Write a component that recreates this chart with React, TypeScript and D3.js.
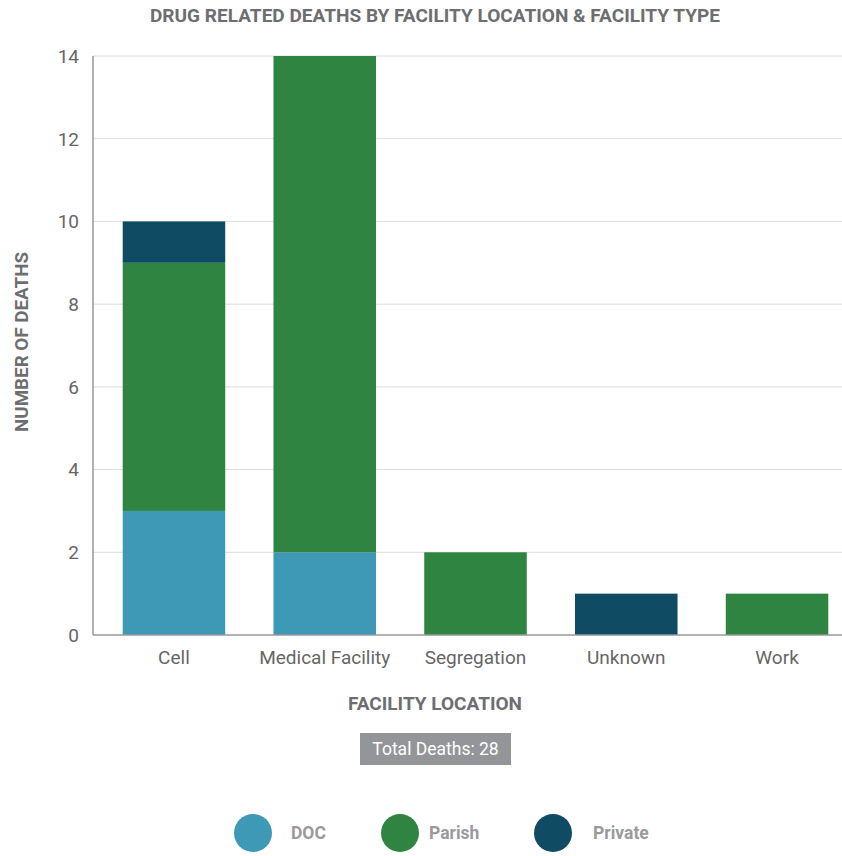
import React from "react";
import * as d3 from "d3";

// Facility locations and deaths per facility type
const locations = ["Cell", "Medical Facility", "Segregation", "Unknown", "Work"];
const docDeaths = [3, 2, 0, 0, 0];
const parishDeaths = [6, 12, 2, 0, 1];
const privateDeaths = [1, 0, 0, 1, 0];
const facilityTypes = ["DOC", "Parish", "Private"];
const typeColors = ["#3e99b6", "#2e8440", "#0f4c63"];
const yTicks = [0, 2, 4, 6, 8, 10, 12, 14];

const W = 842;
const H = 856;
const left = 93;
const top = 56;
const bottom = 635;
const plotRight = 842;

export default function App() {
  const rows = locations.map((loc, i) => ({
    loc,
    DOC: docDeaths[i],
    Parish: parishDeaths[i],
    Private: privateDeaths[i],
  }));
  const stack = d3.stack<any>().keys(facilityTypes)(rows);
  const total = d3.sum(docDeaths) + d3.sum(parishDeaths) + d3.sum(privateDeaths);

  const x = d3
    .scaleBand<string>()
    .domain(locations)
    .range([left, 858])
    .paddingInner(0.32)
    .paddingOuter(0.197)
    .align(0.5);
  const y = d3.scaleLinear().domain([0, 14]).range([bottom, top]);
  const color = d3.scaleOrdinal<string, string>().domain(facilityTypes).range(typeColors);

  const font = "Roboto, 'Noto Sans', sans-serif";
  const legendCx = [253, 400, 553];
  const legendLabelX = [291, 429, 593];

  return (
    <svg
      width={W}
      height={H}
      style={{ position: "absolute", left: 0, top: 0, background: "#fff" }}
      fontFamily={font}
    >
      <text
        x={435}
        y={22}
        textAnchor="middle"
        fontSize={18}
        fontWeight={700}
        fill="#6d6e71"
        textLength={570}
        lengthAdjust="spacingAndGlyphs"
      >
        DRUG RELATED DEATHS BY FACILITY LOCATION &amp; FACILITY TYPE
      </text>

      {/* gridlines and y ticks */}
      {yTicks.map((t) => (
        <g key={t}>
          {t > 0 && (
            <line x1={left} x2={plotRight} y1={y(t)} y2={y(t)} stroke="#dcdcdc" strokeWidth={1} />
          )}
          <text x={79} y={y(t)} dy="0.36em" textAnchor="end" fontSize={19} fill="#666666">
            {t}
          </text>
        </g>
      ))}

      {/* stacked bars */}
      {stack.map((series) => (
        <g key={series.key} fill={color(series.key)}>
          {series.map((d, i) =>
            d[1] - d[0] > 0 ? (
              <rect
                key={i}
                x={x(locations[i])}
                y={y(d[1])}
                width={x.bandwidth()}
                height={y(d[0]) - y(d[1])}
              />
            ) : null
          )}
        </g>
      ))}

      {/* axes */}
      <line x1={left} x2={left} y1={top} y2={bottom} stroke="#999999" strokeWidth={1.5} />
      <line x1={left} x2={plotRight} y1={bottom} y2={bottom} stroke="#999999" strokeWidth={1.5} />

      {locations.map((loc) => (
        <text
          key={loc}
          x={(x(loc) as number) + x.bandwidth() / 2}
          y={664}
          textAnchor="middle"
          fontSize={19}
          fill="#666666"
        >
          {loc}
        </text>
      ))}

      <text
        transform={`translate(28, 342) rotate(-90)`}
        textAnchor="middle"
        fontSize={18}
        fontWeight={700}
        fill="#6d6e71"
        textLength={180}
        lengthAdjust="spacingAndGlyphs"
      >
        NUMBER OF DEATHS
      </text>

      <text
        x={435}
        y={710}
        textAnchor="middle"
        fontSize={18}
        fontWeight={700}
        fill="#6d6e71"
        textLength={174}
        lengthAdjust="spacingAndGlyphs"
      >
        FACILITY LOCATION
      </text>

      <rect x={360} y={733} width={151} height={32} fill="#939598" />
      <text x={435.5} y={755} textAnchor="middle" fontSize={17.5} fill="#ffffff">
        {`Total Deaths: ${total}`}
      </text>

      {/* legend */}
      {facilityTypes.map((t, i) => (
        <g key={t}>
          <circle cx={legendCx[i]} cy={833} r={19} fill={color(t)} />
          <text x={legendLabelX[i]} y={839} fontSize={17.5} fontWeight={700} fill="#9a9a9c">
            {t}
          </text>
        </g>
      ))}
    </svg>
  );
}
